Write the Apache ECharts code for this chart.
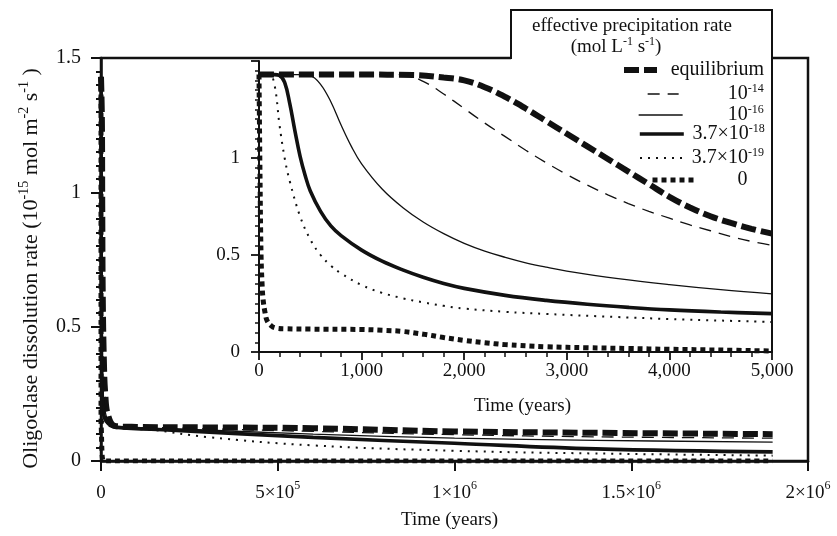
<!DOCTYPE html>
<html>
<head>
<meta charset="utf-8">
<script src="https://cdn.jsdelivr.net/npm/echarts@6/dist/echarts.min.js"></script>
<style>
    html, body { margin: 0; padding: 0; background: #fff; }
    #chart { width: 837px; height: 536px; }
</style>
</head>
<body>
<div id="chart"></div>
<script>

// Series names (legend order)
var seriesNames = ['equilibrium', '1e-14', '1e-16', '3.7e-18', '3.7e-19', '0'];

// Main chart, [time (years), rate]
var mainEquilibrium = [[0, 1.43], [1500, 1.43], [2500, 1.27], [3500, 0.95], [5000, 0.61], [8000, 0.38], [12000, 0.25], [20000, 0.17], [40000, 0.13], [100000, 0.127], [300000, 0.125], [600000, 0.122], [1000000, 0.11], [1400000, 0.105], [1900000, 0.1]];
var main1e14 = [[0, 1.43], [1500, 1.43], [3000, 0.9], [5000, 0.55], [8000, 0.35], [12000, 0.24], [20000, 0.165], [40000, 0.128], [200000, 0.123], [600000, 0.11], [1000000, 0.098], [1400000, 0.09], [1900000, 0.085]];
var main1e16 = [[0, 1.43], [500, 1.42], [1000, 0.965], [2000, 0.56], [5000, 0.3], [10000, 0.2], [20000, 0.15], [40000, 0.127], [200000, 0.12], [600000, 0.1], [1000000, 0.085], [1400000, 0.077], [1900000, 0.07]];
var main37e18 = [[0, 1.43], [200, 1.42], [500, 0.84], [1000, 0.53], [2000, 0.325], [5000, 0.2], [10000, 0.16], [20000, 0.14], [40000, 0.126], [200000, 0.115], [600000, 0.088], [1000000, 0.066], [1400000, 0.045], [1900000, 0.034]];
var main37e19 = [[0, 1.43], [100, 1.43], [300, 0.88], [1000, 0.345], [5000, 0.155], [10000, 0.14], [40000, 0.125], [150000, 0.115], [300000, 0.089], [600000, 0.058], [1000000, 0.038], [1400000, 0.028], [1900000, 0.02]];
var main0 = [[0, 1.43], [20, 0.5], [100, 0.14], [1000, 0.116], [3000, 0.025], [5000, 0.005], [8000, 0], [1900000, 0]];

// Inset, first 5000 years
var insetEquilibrium = [[0, 1.43], [1000, 1.43], [1500, 1.428], [1800, 1.415], [2000, 1.4], [2200, 1.365], [2400, 1.315], [2600, 1.255], [2800, 1.19], [3000, 1.125], [3200, 1.06], [3400, 0.995], [3600, 0.93], [3800, 0.865], [4000, 0.8], [4200, 0.745], [4400, 0.7], [4600, 0.665], [4800, 0.635], [5000, 0.61]];
var inset1e14 = [[0, 1.43], [1000, 1.43], [1400, 1.43], [1600, 1.395], [1800, 1.33], [2000, 1.255], [2200, 1.18], [2400, 1.11], [2600, 1.04], [2800, 0.975], [3000, 0.915], [3200, 0.86], [3400, 0.81], [3600, 0.765], [3800, 0.725], [4000, 0.69], [4200, 0.655], [4400, 0.625], [4600, 0.595], [4800, 0.57], [5000, 0.55]];
var inset1e16 = [[0, 1.43], [400, 1.43], [500, 1.425], [600, 1.38], [700, 1.29], [800, 1.17], [900, 1.06], [1000, 0.97], [1200, 0.84], [1400, 0.745], [1600, 0.67], [1800, 0.61], [2000, 0.56], [2200, 0.52], [2400, 0.488], [2600, 0.46], [2800, 0.437], [3000, 0.417], [3500, 0.378], [4000, 0.347], [4500, 0.321], [5000, 0.3]];
var inset37e18 = [[0, 1.43], [150, 1.43], [200, 1.425], [250, 1.39], [300, 1.28], [350, 1.14], [400, 1.01], [450, 0.91], [500, 0.83], [600, 0.725], [700, 0.65], [800, 0.6], [1000, 0.525], [1200, 0.468], [1400, 0.423], [1600, 0.385], [1800, 0.353], [2000, 0.328], [2400, 0.292], [2800, 0.266], [3200, 0.246], [3600, 0.23], [4000, 0.217], [4500, 0.206], [5000, 0.198]];
var inset37e19 = [[0, 1.43], [100, 1.43], [150, 1.38], [200, 1.17], [250, 1.0], [300, 0.88], [400, 0.7], [500, 0.58], [600, 0.5], [700, 0.445], [800, 0.405], [1000, 0.345], [1200, 0.305], [1400, 0.277], [1600, 0.256], [1800, 0.238], [2000, 0.224], [2400, 0.207], [2800, 0.196], [3500, 0.18], [4000, 0.17], [4500, 0.162], [5000, 0.155]];
var inset0 = [[0, 1.43], [10, 0.9], [20, 0.5], [30, 0.35], [40, 0.27], [60, 0.2], [80, 0.16], [120, 0.135], [160, 0.124], [250, 0.12], [500, 0.118], [1000, 0.116], [1200, 0.112], [1400, 0.106], [1600, 0.092], [1800, 0.075], [2000, 0.06], [2200, 0.048], [2400, 0.038], [2800, 0.027], [3200, 0.022], [3600, 0.018], [4000, 0.014], [4500, 0.01], [5000, 0.005]];

// Tick labels
var mainXLabels = ['{b|0}', '{b|5×10}{s|5}', '{b|1×10}{s|6}', '{b|1.5×10}{s|6}', '{b|2×10}{s|6}'];
var mainYLabels = ['0', '0.5', '1', '1.5'];
var insetXLabels = ['0', '1,000', '2,000', '3,000', '4,000', '5,000'];
var insetYLabels = ['0', '0.5', '1', ''];

// Legend labels
var legendLabels = {
    'equilibrium': '{b|equilibrium}',
    '1e-14': '{b|10}{s|-14}',
    '1e-16': '{b|10}{s|-16}',
    '3.7e-18': '{b|3.7×10}{s|-18}',
    '3.7e-19': '{b|3.7×10}{s|-19}',
    '0': '{b|0}'
};

var mainData = [mainEquilibrium, main1e14, main1e16, main37e18, main37e19, main0];
var insetData = [insetEquilibrium, inset1e14, inset1e16, inset37e18, inset37e19, inset0];


document.addEventListener('DOMContentLoaded', function() {

    var FONT = "'Liberation Serif', 'Times New Roman', serif";
    var INK = '#111';

    // Line styles per series
    var lineStyles = [
        {width: 6, type: [15, 5]},
        {width: 1.3, type: [12, 8]},
        {width: 1.3, type: 'solid'},
        {width: 3.6, type: 'solid'},
        {width: 2, type: [2, 6]},
        {width: 5, type: [5, 4]}
    ];

    var rich = {
        b: {fontFamily: FONT, fontSize: 19, color: INK, lineHeight: 26},
        s: {fontFamily: FONT, fontSize: 12, color: INK, lineHeight: 10, verticalAlign: 'top'}
    };
    var nameRich = {
        b: {fontFamily: FONT, fontSize: 22, color: INK, lineHeight: 28},
        s: {fontFamily: FONT, fontSize: 14, color: INK, lineHeight: 10, verticalAlign: 'top'}
    };

    var chart = echarts.init(document.getElementById('chart'), null, {renderer: 'canvas'});

    // Axis helper
    var baseAxis = function(opts) {
        return Object.assign({
            type: 'value',
            axisLine: {show: true, lineStyle: {color: INK, width: 2.5}},
            axisTick: {show: true, length: 10, lineStyle: {color: INK, width: 2}},
            splitLine: {show: false},
            axisLabel: {fontFamily: FONT, fontSize: 19, color: INK}
        }, opts);
    };

    var series = [];
    seriesNames.forEach(function(name, i) {
        var ls = {color: INK, width: lineStyles[i].width, type: lineStyles[i].type, cap: 'butt'};
        series.push({
            name: name, type: 'line', xAxisIndex: 0, yAxisIndex: 0,
            symbol: 'none', smooth: 0.4, z: 2,
            lineStyle: ls, itemStyle: {color: INK},
            data: mainData[i]
        });
        series.push({
            name: name, type: 'line', xAxisIndex: 1, yAxisIndex: 1,
            symbol: 'none', smooth: 0.4, z: 9,
            lineStyle: ls, itemStyle: {color: INK},
            data: insetData[i]
        });
    });

    // One legend per entry so each icon/text sits where the original does
    var legendPos = [
        {left: 621, center: 71, w: 33, right: 761},
        {left: 647, center: 94, w: 31, right: 763},
        {left: 638, center: 115, w: 44, right: 763},
        {left: 638, center: 134, w: 44, right: 763},
        {left: 639, center: 158, w: 42, right: 763},
        {left: 650, center: 181, w: 44, right: 745}
    ];
    var legendRich = {
        b: {fontFamily: FONT, fontSize: 20, color: INK, lineHeight: 22, align: 'right'},
        s: {fontFamily: FONT, fontSize: 12, color: INK, lineHeight: 8, verticalAlign: 'top', align: 'right'}
    };
    var legends = seriesNames.map(function(name, i) {
        var p = legendPos[i];
        return {
            data: [name],
            orient: 'vertical',
            left: p.left,
            top: p.center - 11,
            padding: 0,
            itemWidth: p.w,
            itemHeight: 22,
            selectedMode: false,
            z: 10,
            itemStyle: {color: 'rgba(0,0,0,0)', borderColor: 'rgba(0,0,0,0)', borderWidth: 0},
            lineStyle: {width: 'inherit', type: 'inherit', color: 'inherit', cap: 'butt'},
            formatter: function(n) { return legendLabels[n]; },
            textStyle: {width: p.right - (p.left + p.w + 5), rich: legendRich}
        };
    });

    chart.setOption({
        animation: false,
        backgroundColor: '#fff',
        textStyle: {fontFamily: FONT, color: INK},

        grid: [
            {left: 101, right: 29, top: 58, bottom: 75, show: true, borderColor: INK, borderWidth: 2.5, z: 0},
            {left: 259, right: 65, top: 61, bottom: 184, show: true, backgroundColor: '#fff', borderWidth: 0, z: 6}
        ],

        legend: legends,

        xAxis: [
            baseAxis({
                gridIndex: 0, min: 0, max: 2000000, interval: 500000, z: 3,
                name: 'Time (years)', nameLocation: 'middle', nameGap: 50,
                nameTextStyle: {fontFamily: FONT, fontSize: 19, color: INK, padding: [0, 10, 0, 0]},
                axisLabel: {
                    margin: 19, fontFamily: FONT, fontSize: 19, color: INK, rich: rich,
                    formatter: function(v) { return mainXLabels[Math.round(v / 500000)]; }
                }
            }),
            baseAxis({
                gridIndex: 1, min: 0, max: 5000, interval: 1000, z: 8,
                axisLine: {show: true, lineStyle: {color: INK, width: 2}},
                axisTick: {show: true, length: 8, lineStyle: {color: INK, width: 1.8}},
                minorTick: {show: true, splitNumber: 5, length: 5, lineStyle: {color: INK, width: 1.5}},
                name: 'Time (years)', nameLocation: 'middle', nameGap: 45,
                nameTextStyle: {fontFamily: FONT, fontSize: 19, color: INK, padding: [0, 0, 0, 14]},
                axisLabel: {
                    margin: 10, fontFamily: FONT, fontSize: 19, color: INK,
                    formatter: function(v) { return insetXLabels[Math.round(v / 1000)]; }
                }
            })
        ],

        yAxis: [
            baseAxis({
                gridIndex: 0, min: 0, max: 1.5, interval: 0.5, z: 3,
                minorTick: {show: true, splitNumber: 10, length: 5, lineStyle: {color: INK, width: 2}},
                name: '{b|Oligoclase dissolution rate (10}{s|-15}{b| mol m}{s|-2}{b| s}{s|-1}{b| )}',
                nameLocation: 'middle', nameGap: 56, nameRotate: 90,
                nameTextStyle: {fontFamily: FONT, fontSize: 22, color: INK, rich: nameRich, padding: [0, 18, 0, 0]},
                axisLabel: {
                    margin: 20, fontFamily: FONT, fontSize: 20, color: INK,
                    formatter: function(v) { return mainYLabels[Math.round(v / 0.5)]; }
                }
            }),
            baseAxis({
                gridIndex: 1, min: 0, max: 1.5, interval: 0.5, z: 8,
                axisLine: {show: true, lineStyle: {color: INK, width: 2}},
                axisTick: {show: true, length: 8, lineStyle: {color: INK, width: 1.8}},
                minorTick: {show: true, splitNumber: 10, length: 4, lineStyle: {color: INK, width: 1.5}},
                axisLabel: {
                    margin: 19, fontFamily: FONT, fontSize: 19, color: INK,
                    formatter: function(v) { return insetYLabels[Math.round(v / 0.5)]; }
                }
            }),
            // right edge of the inset frame
            {
                type: 'value', gridIndex: 1, position: 'right', min: 0, max: 1.5, z: 8,
                axisLine: {show: true, lineStyle: {color: INK, width: 2}},
                axisTick: {show: false}, axisLabel: {show: false}, splitLine: {show: false}
            }
        ],

        // Legend box and its heading
        graphic: [
            {type: 'rect', z: 7, shape: {x: 511, y: 9, width: 261, height: 53}, style: {fill: '#fff'}},
            {type: 'polyline', z: 7, shape: {points: [[511, 59], [511, 10], [772, 10], [772, 62]]}, style: {stroke: INK, lineWidth: 2, fill: null}},
            {type: 'text', z: 11, style: {text: 'effective precipitation rate', x: 632, y: 26, align: 'center', verticalAlign: 'middle', fontFamily: FONT, fontSize: 19, fill: INK}},
            {type: 'text', z: 11, style: {text: '{b|(mol L}{s|-1}{b| s}{s|-1}{b|)}', x: 616, y: 47, align: 'center', verticalAlign: 'middle', rich: {
                b: {fontFamily: FONT, fontSize: 19, fill: INK, lineHeight: 22},
                s: {fontFamily: FONT, fontSize: 12, fill: INK, lineHeight: 8, verticalAlign: 'top'}
            }}}
        ],

        series: series
    });
});
</script>
</body>
</html>
